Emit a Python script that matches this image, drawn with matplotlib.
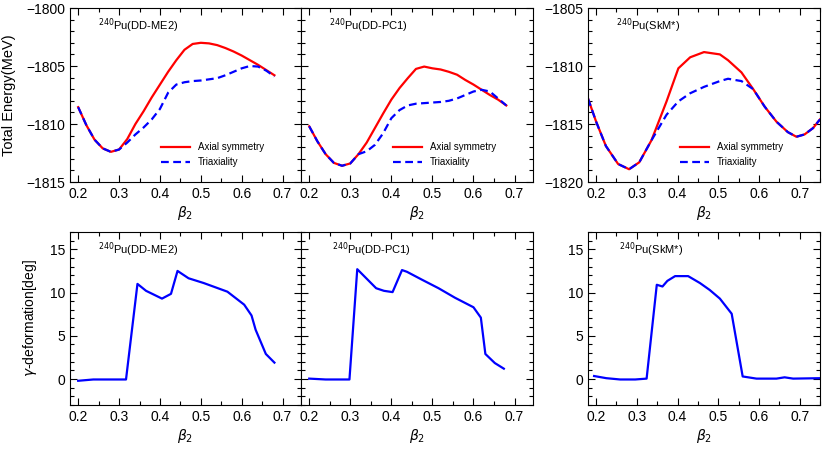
import numpy as np
import matplotlib.pyplot as plt
from matplotlib.ticker import MultipleLocator

plt.rcParams['font.family'] = ['Liberation Sans', 'DejaVu Sans']
plt.rcParams['mathtext.fontset'] = 'dejavusans'

# ---------- data ----------
# DD-ME2 total energy
me2_beta = [0.20, 0.22, 0.24, 0.26, 0.28, 0.30, 0.32, 0.34, 0.36, 0.38, 0.40, 0.42,
            0.44, 0.46, 0.48, 0.50, 0.52, 0.54, 0.56, 0.58, 0.60, 0.62, 0.64, 0.66, 0.68]
me2_axial = [-1808.55, -1810.1, -1811.35, -1812.1, -1812.4, -1812.2, -1811.3, -1810.0,
             -1808.9, -1807.7, -1806.6, -1805.5, -1804.5, -1803.6, -1803.1, -1803.0,
             -1803.05, -1803.2, -1803.45, -1803.75, -1804.1, -1804.5, -1804.9, -1805.35, -1805.8]
me2_triax = [-1808.55, -1810.1, -1811.35, -1812.1, -1812.4, -1812.2, -1811.6, -1810.9,
             -1810.3, -1809.6, -1808.7, -1807.3, -1806.6, -1806.4, -1806.3, -1806.25,
             -1806.15, -1806.05, -1805.8, -1805.5, -1805.2, -1805.0, -1805.05, -1805.4, -1805.9]

# DD-PC1 total energy
pc1_beta = me2_beta
pc1_axial = [-1810.2, -1811.5, -1812.6, -1813.35, -1813.6, -1813.4, -1812.6, -1811.6,
             -1810.35, -1809.1, -1807.9, -1806.9, -1806.05, -1805.25, -1805.05, -1805.2,
             -1805.3, -1805.5, -1805.75, -1806.2, -1806.6, -1807.05, -1807.5, -1807.9, -1808.4]
pc1_triax = [-1810.2, -1811.5, -1812.6, -1813.35, -1813.6, -1813.4, -1812.6, -1812.35,
             -1811.8, -1810.8, -1809.5, -1808.8, -1808.4, -1808.25, -1808.2, -1808.15,
             -1808.1, -1808.0, -1807.8, -1807.5, -1807.2, -1807.05, -1807.2, -1807.8, -1808.4]

# SkM* total energy
skm_beta = [0.18, 0.20, 0.224, 0.254, 0.281, 0.306, 0.336, 0.373, 0.402, 0.431, 0.465,
            0.504, 0.524, 0.557, 0.586, 0.614, 0.643, 0.671, 0.692, 0.712, 0.733, 0.75]
skm_axial = [-1812.8, -1814.8, -1816.9, -1818.45, -1818.9, -1818.3, -1816.4, -1813.05,
             -1810.2, -1809.25, -1808.8, -1809.0, -1809.5, -1810.55, -1812.0, -1813.5,
             -1814.8, -1815.7, -1816.1, -1815.9, -1815.35, -1814.6]
skm_triax = [-1812.8, -1814.8, -1816.9, -1818.45, -1818.9, -1818.3, -1816.4, -1814.2,
             -1813.05, -1812.35, -1811.8, -1811.3, -1811.1, -1811.3, -1812.0, -1813.5,
             -1814.8, -1815.7, -1816.1, -1815.9, -1815.35, -1814.6]

# gamma deformation
me2_g_beta = [0.20, 0.237, 0.317, 0.345, 0.366, 0.405, 0.427, 0.443, 0.47, 0.507,
              0.565, 0.606, 0.624, 0.634, 0.659, 0.68]
me2_gamma = [-0.2, -0.05, -0.05, 11.0, 10.2, 9.3, 9.85, 12.5, 11.65, 11.1,
             10.1, 8.6, 7.35, 5.7, 2.9, 1.9]

pc1_g_beta = [0.20, 0.24, 0.298, 0.317, 0.363, 0.382, 0.403, 0.426, 0.438, 0.474,
              0.515, 0.555, 0.60, 0.618, 0.629, 0.652, 0.674]
pc1_gamma = [0.05, -0.05, -0.05, 12.7, 10.5, 10.2, 10.05, 12.6, 12.4, 11.5,
             10.5, 9.4, 8.3, 7.1, 2.9, 1.85, 1.2]

skm_g_beta = [0.195, 0.225, 0.259, 0.296, 0.324, 0.349, 0.363, 0.375, 0.394, 0.426,
              0.455, 0.479, 0.504, 0.533, 0.56, 0.594, 0.643, 0.663, 0.684, 0.75]
skm_gamma = [0.35, 0.1, -0.05, -0.05, 0.05, 10.9, 10.7, 11.35, 11.9, 11.9,
             11.1, 10.3, 9.3, 7.55, 0.3, 0.05, 0.05, 0.2, 0.05, 0.1]

names = [r'$^{240}$Pu(DD-ME2)', r'$^{240}$Pu(DD-PC1)', r'$^{240}$Pu(SkM*)']
# -----------------------------------------------

fig = plt.figure(figsize=(8.22, 4.51), dpi=100)

W, H = 822, 451
def box(l, t, r, b):
    return [l / W, 1 - b / H, (r - l) / W, (b - t) / H]

top_axes = [fig.add_axes(box(70, 8, 301, 182)),
            fig.add_axes(box(301, 8, 533, 182)),
            fig.add_axes(box(588, 8, 820, 182))]
bot_axes = [fig.add_axes(box(70, 232, 301, 405)),
            fig.add_axes(box(301, 232, 533, 405)),
            fig.add_axes(box(588, 232, 820, 405))]

def style(ax):
    ax.set_xlim(0.18, 0.745)
    ax.xaxis.set_major_locator(MultipleLocator(0.1))
    ax.xaxis.set_minor_locator(MultipleLocator(0.05))
    ax.yaxis.set_minor_locator(MultipleLocator(1))
    ax.tick_params(which='both', direction='in', top=True, right=True, labelsize=10)
    ax.tick_params(which='major', length=5, width=0.8)
    ax.tick_params(which='minor', length=3, width=0.8)
    ax.set_xlabel(r'$\beta_2$', fontsize=10, labelpad=2)
    for s in ax.spines.values():
        s.set_linewidth(0.8)

energy = [(me2_beta, me2_axial, me2_triax),
          (pc1_beta, pc1_axial, pc1_triax),
          (skm_beta, skm_axial, skm_triax)]
for i, ax in enumerate(top_axes):
    b, ax_e, tr_e = energy[i]
    ax.plot(b, ax_e, color='#ff0000', lw=1.6, label='Axial symmetry')
    ax.plot(b, tr_e, color='#0000ff', lw=1.6, ls=(0, (3.5, 2)), label='Triaxiality')
    style(ax)
    ax.yaxis.set_major_locator(MultipleLocator(5))
    ax.text(0.12, 0.90, names[i], transform=ax.transAxes, fontsize=8, va='center')
    ax.legend(loc='lower left', bbox_to_anchor=(0.395, 0.085), frameon=False,
              fontsize=7, handlelength=3.0, handletextpad=0.8, labelspacing=0.5,
              borderpad=0, borderaxespad=0)

top_axes[0].set_ylim(-1815, -1800)
top_axes[1].set_ylim(-1815, -1800)
top_axes[2].set_ylim(-1820, -1805)
top_axes[2].set_xlim(0.18, 0.75)
top_axes[1].tick_params(labelleft=False)
top_axes[0].set_ylabel('Total Energy(MeV)', fontsize=10.5, labelpad=7)

gam = [(me2_g_beta, me2_gamma), (pc1_g_beta, pc1_gamma), (skm_g_beta, skm_gamma)]
for i, ax in enumerate(bot_axes):
    b, g = gam[i]
    ax.plot(b, g, color='#0000ff', lw=1.6)
    style(ax)
    ax.set_ylim(-3, 17)
    ax.yaxis.set_major_locator(MultipleLocator(5))
    ax.text(0.12 if i == 0 else 0.135, 0.90, names[i], transform=ax.transAxes,
            fontsize=8, va='center')

bot_axes[2].set_xlim(0.18, 0.75)
bot_axes[1].tick_params(labelleft=False)
bot_axes[0].set_ylabel(r'$\gamma$-deformation[deg]', fontsize=10, labelpad=8)

fig.savefig('out.png', dpi=100)
